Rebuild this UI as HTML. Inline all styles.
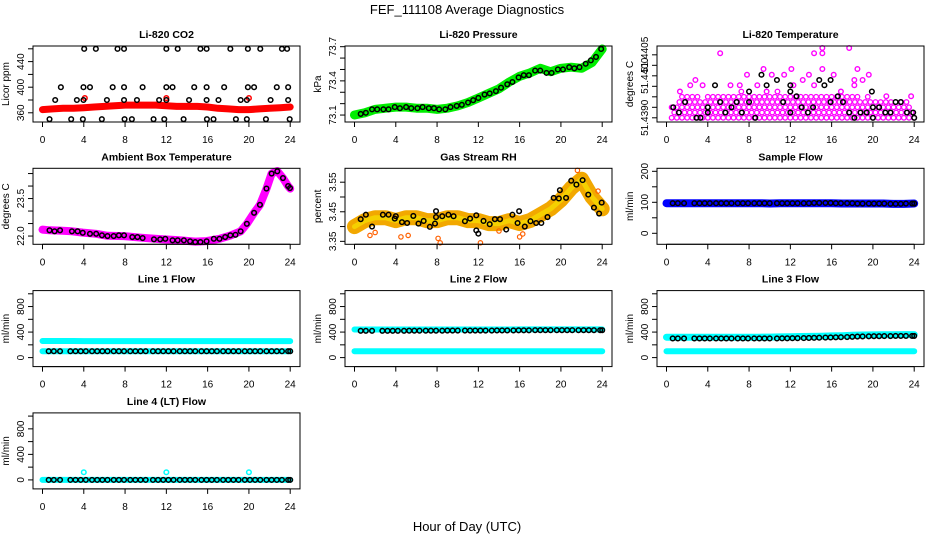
<!DOCTYPE html>
<html><head><meta charset="utf-8"><style>
html,body{margin:0;padding:0;background:#fff;}
svg{display:block;font-family:"Liberation Sans",sans-serif;}
</style></head><body>
<svg id="fig" width="936" height="540" viewBox="0 0 936 540" xmlns="http://www.w3.org/2000/svg">
<rect width="936" height="540" fill="#fff"/>
<text x="467" y="14" font-size="13" text-anchor="middle">FEF_111108  Average Diagnostics</text>
<text x="467" y="531" font-size="13" text-anchor="middle">Hour of Day (UTC)</text>
</svg>
<script>
// ---------- shared ----------
const xTicks = [0,4,8,12,16,20,24];
const hourly = [0,1,2,3,4,5,6,7,8,9,10,11,12,13,14,15,16,17,18,19,20,21,22,23,24];
const flowHours = [0.6,1.1,1.7,2.7,3.2,3.7,4.2,4.8,5.3,5.8,6.3,6.9,7.4,7.9,8.5,9.0,9.5,10.0,10.7,11.2,11.7,12.2,12.7,13.3,13.8,14.3,14.8,15.4,15.9,16.4,16.9,17.5,18.0,18.5,19.0,19.6,20.1,20.6,21.1,21.7,22.2,22.7,23.2,23.8,24.0];

// ---------- CO2 ----------
const co2Band = [365,366,367,367,368,369,370,371,372,372,372,372,371,370,370,370,369,367,366,365,365,366,367,368,369];
const co2PtsH = [4.04,5.17,7.27,7.9,12.0,13.1,15.3,15.9,18.2,19.9,21.1,23.2,23.7, 1.78,3.97,4.6,6.8,7.9,9.7,12,12.6,14.7,15.9,17.6,19.9,20.5,22.7,23.8, 1.23,3.33,3.97,6.24,7.9,9.15,11.3,12,14.2,15.9,17.05,19.2,19.8,22.1,23.8, 0.68,2.78,3.91,5.75,7.95,8.66,10.76,11.8,13.67,15.93,16.57,18.74,19.8,21.65,23.95];
const co2PtsV = [460,460,460,460,460,460,460,460,460,460,460,460,460, 400,400,400,400,400,400,400,400,400,400,400,400,400,400,400, 380,380,380,380,380,380,380,380,380,380,380,380,380,380,380, 350,350,350,350,350,350,350,350,350,350,350,350,350,350,350];
const co2RedH = [4.1,12.0,20.0];
const co2RedV = [383,383,383];

// ---------- Pressure ----------
const presBand = [73.10,73.12,73.15,73.16,73.17,73.17,73.16,73.16,73.15,73.16,73.18,73.21,73.25,73.29,73.33,73.39,73.44,73.47,73.51,73.48,73.51,73.52,73.51,73.56,73.68];
const presPtsH = [0.6,1.1,1.7,2.2,2.8,3.3,3.9,4.4,5.0,5.5,6.1,6.6,7.2,7.7,8.2,8.8,9.3,9.9,10.4,11.0,11.5,12.0,12.6,13.1,13.7,14.2,14.8,15.3,15.9,16.4,16.9,17.5,18.0,18.6,19.1,19.7,20.2,20.8,21.3,21.8,22.4,22.9,23.4,23.9];
const presPtsV = [73.11,73.12,73.15,73.15,73.15,73.15,73.17,73.16,73.17,73.16,73.16,73.17,73.16,73.16,73.15,73.15,73.17,73.18,73.19,73.21,73.23,73.25,73.28,73.29,73.31,73.34,73.37,73.39,73.43,73.45,73.45,73.49,73.49,73.47,73.47,73.50,73.50,73.52,73.51,73.52,73.55,73.58,73.61,73.68];

// ---------- Li-820 Temperature (quantized levels; value = 51.4390 + level*0.000125) ----------
const tempBandTop = [2,2,3,4,4,4,4,3,4,4,4,4,4,4,5,4,4,4,4,4,4,5,4,4,4,4,4,4,4,4,4,4,4,4,4,4,4,4,3,4,3,3,3,3,2,3,3,2,1];
const tempMagH = [5.2,14.3,15.1,15.1,17.7,9.4,12.1,15.1,18.5,2.8,7.8,10.2,11.4,13.8,16.2,19.6,2.3,3.5,6.2,7.1,8.8,13.2,18.2,19.0,18.2,21.3,23.7,1.3,12.3,14.3,9.7,16.9];
const tempMagL = [12.3,12.3,12.3,13.3,13.3,9.3,9.3,9.3,9.3,7.2,8.2,8.2,8.2,8.2,8.2,8.2,6.2,6.2,6.2,6.2,6.2,7.2,7.2,7.2,6.2,4.1,4.1,5,6.2,6.2,5,5];
const tempBlkH = [0.65,1.2,1.8,2.9,3.3,4.0,4.0,4.7,5.2,5.7,6.3,6.8,7.3,8,8,8.6,9.2,9.7,10.7,11.3,12,12,12,12.6,13.1,13.7,14.2,14.8,15.3,15.9,15.9,16.6,17.1,17.7,18.2,18.8,19.4,19.9,20,20,20.6,21.2,21.7,22.2,22.7,23.3,23.9,24];
const tempBlkL = [2,1,3,0,0,2,1,6.2,3,1,2,3,1,5,3,0,8.2,6.2,7.2,3,6.2,5,1,4.1,2,1,2,7.2,6.2,7.2,3,4.1,3,1,0,1,1,5,2,0,2,1,1,3,3,1,1,0];

// ---------- Ambient Box Temperature ----------
const ambH = [0.68,1.17,1.7,2.85,3.4,3.9,4.6,5.2,5.76,6.3,6.9,7.4,7.9,8.7,9.2,9.7,10.8,11.4,11.9,12.6,13.1,13.7,14.3,14.8,15.3,15.9,16.6,17.15,17.7,18.2,18.7,19.2,19.8,20.5,21.07,21.7,22.2,22.75,23.3,23.8,23.98];
const ambV = [22.23,22.19,22.23,22.19,22.19,22.13,22.09,22.09,22.03,22.0,22.0,22.03,22.03,21.96,21.96,21.92,21.87,21.87,21.89,21.83,21.83,21.83,21.79,21.76,21.76,21.79,21.89,21.89,21.96,22.03,22.05,22.19,22.49,22.93,23.25,23.9,24.5,24.59,24.32,24.0,23.92];
const ambBandH = [0,0.68,1.7,2.85,3.9,5.2,6.3,7.9,9.7,11.4,13.1,14.8,15.9,17.15,18.2,19.2,19.8,20.5,21.07,21.7,22.2,22.75,23.3,23.8,24];
const ambBandV = [22.26,22.23,22.22,22.19,22.14,22.09,22.01,22.0,21.93,21.88,21.84,21.78,21.8,21.89,22.02,22.19,22.49,22.93,23.25,23.9,24.5,24.6,24.32,24.0,23.9];

// ---------- Gas Stream RH ----------
const rhBand = [3.40,3.42,3.43,3.43,3.42,3.43,3.43,3.42,3.42,3.43,3.43,3.42,3.42,3.41,3.41,3.42,3.41,3.42,3.44,3.46,3.49,3.53,3.56,3.50,3.46];
const rhH = [0.6,1.1,1.7,2.75,3.3,3.9,4,4.6,5.1,5.7,6.2,6.7,7.3,7.8,7.9,7.9,8.5,9.1,9.6,10.7,11.2,11.8,11.8,12,12.5,13.1,13.6,14.1,14.7,15.3,15.8,15.95,16.5,17.05,17.6,18.1,18.7,19.3,19.8,19.9,20.5,21,21.5,22.1,22.65,23.2,23.7,23.95];
const rhV = [3.425,3.44,3.40,3.44,3.44,3.427,3.435,3.415,3.412,3.436,3.41,3.419,3.399,3.41,3.452,3.432,3.435,3.44,3.435,3.418,3.427,3.438,3.387,3.376,3.419,3.408,3.425,3.425,3.39,3.44,3.412,3.452,3.40,3.418,3.412,3.412,3.432,3.497,3.495,3.523,3.497,3.555,3.542,3.557,3.508,3.464,3.444,3.481];
const rhOutH = [1.5,2.0,4.5,5.2,8.1,8.3,12.2,14.0,16.0,16.3,21.6,23.6];
const rhOutV = [3.37,3.38,3.365,3.37,3.36,3.345,3.345,3.385,3.365,3.375,3.59,3.52];

// ---------- Sample Flow ----------
const sampBand = [97,97,97,97,97,97,97,97,97,97,96,97,97,97,97,97,97,96,96,96,96,96,95,95,96];
const sampPts = [97,97,97,97,97,97,97,97,97,97,97,97,97,97,97,97,97,97,97,97,97,97,97,97,97,98,98,98,98,97,97,97,97,96,96,96,96,96,96,95,95,95,96,96,96];

// ---------- Line flows ----------
const l1BandHi = [260,260,260,260,258,258,258,258,258,258,258,258,258,258,258,258,258,258,258,258,258,258,258,258,258];
const l1BandLo = [100,100,100,100,100,100,100,100,100,100,100,100,100,100,100,100,100,100,100,100,100,100,100,100,100];
const l1Pts = [100,100,100,100,100,100,100,100,100,100,100,100,100,100,100,100,100,100,100,100,100,100,100,100,100,100,100,100,100,100,100,100,100,100,100,100,100,100,100,100,100,100,100,100,100];
const l2BandHi = [440,440,440,440,440,440,440,440,440,440,440,440,440,440,440,440,442,442,442,442,442,442,442,442,442];
const l2BandLo = [100,100,100,100,100,100,100,100,100,100,100,100,100,100,100,100,100,100,100,100,100,100,100,100,100];
const l2Pts = [420,420,420,420,420,420,420,420,422,422,422,422,422,422,422,424,424,424,424,424,424,424,424,424,426,426,426,426,428,428,428,430,430,430,430,430,430,430,430,430,430,430,430,430,430];
const l3BandHi = [320,320,320,320,320,320,320,320,320,320,322,324,326,330,332,336,340,344,350,354,356,358,358,360,360];
const l3BandLo = [100,100,100,100,100,100,100,100,100,100,100,100,100,100,100,100,100,100,100,100,100,100,100,100,100];
const l3Pts = [300,300,300,300,300,300,300,300,300,300,300,300,300,300,300,300,300,300,300,302,302,304,304,306,308,310,312,314,316,318,320,322,326,330,332,334,336,336,338,338,340,340,340,340,340];
const l4Band = [0,0,0,0,0,0,0,0,0,0,0,0,0,0,0,0,0,0,0,0,0,0,0,0,0];
const l4SpikeH = [4.0,12.0,20.0];
const l4SpikeV = [120,120,120];
const l4Pts = [0,0,0,0,0,0,0,0,0,0,0,0,0,0,0,0,0,0,0,0,0,0,0,0,0,0,0,0,0,0,0,0,0,0,0,0,0,0,0,0,0,0,0,0,0];

const co2Ticks=[360,380,400,420,440,460], co2Labels=[360,400,440];
const presTicks=[73.1,73.2,73.3,73.4,73.5,73.6,73.7], presLabels=[73.1,73.4,73.7];
const tempTicks=[51.4390,51.43925,51.4395,51.43975,51.4400,51.44025,51.4405], tempLabels=[51.4390,51.4400,51.4405];
const ambTicks=[22.0,22.5,23.0,23.5,24.0,24.5], ambLabels=[22.0,23.5];
const rhTicks=[3.35,3.40,3.45,3.50,3.55], rhLabels=[3.35,3.45,3.55];
const sampTicks=[0,50,100,150,200], sampLabels=[0,100,200];
const flowTicks=[0,200,400,600,800,1000], flowLabels=[0,400,800];

// ---------- drawing ----------
const NS='http://www.w3.org/2000/svg';
const svg=document.getElementById('fig');
function mk(tag,attrs,parent){const e=document.createElementNS(NS,tag);for(const k in attrs)e.setAttribute(k,attrs[k]);(parent||svg).appendChild(e);return e;}

function panel(col,row,title,ylab,ymin,ymax,ticks,labels,fmt,name){
  const x0=33+312*col, x1=300+312*col, top=46+122.3*row, bot=top+76;
  const g=mk('g',{});
  
  
  const xs=h=>x0+9.5+h*(247.7/24);
  const ys=v=>bot-(v-ymin)/(ymax-ymin)*76;
  const t=mk('text',{x:(x0+x1)/2,y:top-8,'font-size':10.5,'font-weight':'bold','text-anchor':'middle'},g);
  t.textContent=title;
  
  
  const data=mk('g',{},g);
  
  
  const box=mk('rect',{x:x0,y:top,width:x1-x0,height:76,fill:'none',stroke:'#000','stroke-width':1},g);
  
  
  const ax=mk('g',{},g);
  
  
  mk('line',{x1:xs(0),x2:xs(24),y1:bot,y2:bot,stroke:'#000'},ax);
  xTicks.forEach(h=>{
    mk('line',{x1:xs(h),x2:xs(h),y1:bot,y2:bot+5,stroke:'#000'},ax);
    const l=mk('text',{x:xs(h),y:bot+21,'font-size':10,'text-anchor':'middle'},ax);
    l.textContent=h;
  });
  const ay=mk('g',{},g);
  
  
  mk('line',{x1:x0,x2:x0,y1:ys(ticks[0]),y2:ys(ticks[ticks.length-1]),stroke:'#000'},ay);
  ticks.forEach(v=>mk('line',{x1:x0-5,x2:x0,y1:ys(v),y2:ys(v),stroke:'#000'},ay));
  labels.forEach(v=>{
    const y=ys(v), x=x0-9;
    const l=mk('text',{x:x,y:y,'font-size':10,'text-anchor':'middle',transform:`rotate(-90 ${x} ${y})`},ay);
    l.textContent=fmt(v);
  });
  const yl=mk('text',{x:x0-24,y:(top+bot)/2,'font-size':10,'text-anchor':'middle',transform:`rotate(-90 ${x0-24} ${(top+bot)/2})`},g);
  yl.textContent=ylab;
  
  
  return {xs,ys,g:data};
}
function band(p,hs,vs,color,w,nm){
  const pts=hs.map((h,i)=>p.xs(h).toFixed(1)+','+p.ys(vs[i]).toFixed(1)).join(' ');
  const e=mk('polyline',{points:pts,fill:'none',stroke:color,'stroke-width':w,'stroke-linejoin':'round','stroke-linecap':'round'},p.g);
  
  
}
function circles(p,hs,vs,color,nm,r,sw){
  const gg=mk('g',{},p.g);
  
  
  hs.forEach((h,i)=>{
    const c=mk('circle',{cx:p.xs(h),cy:p.ys(vs[i]),r:r||2.3,fill:'none',stroke:color,'stroke-width':sw||1.5},gg);
    
    
  });
}
const f0=v=>String(v), f1=v=>v.toFixed(1), f2=v=>v.toFixed(2), f4=v=>v.toFixed(4);

// CO2
let p=panel(0,0,'Li-820 CO2','Licor ppm',345.6,464.4,co2Ticks,co2Labels,f0,'co2');
band(p,hourly,co2Band,'#ff0000',7,'co2-raw-band');
circles(p,co2RedH,co2RedV,'#ff0000','co2-red-points');
circles(p,co2PtsH,co2PtsV,'#000','co2-average-points');
// Pressure
p=panel(1,0,'Li-820 Pressure','kPa',73.039,73.706,presTicks,presLabels,f1,'pressure');
band(p,hourly,presBand,'#00ee00',9,'pressure-raw-band');
circles(p,presPtsH,presPtsV,'#000','pressure-average-points');
// Li-820 Temperature
const tStep=0.000125, tBase=51.4390;
p=panel(2,0,'Li-820 Temperature','degrees C',51.43890,51.44071,tempTicks,tempLabels,f4,'li820-temp');
{
  const mh=[],mv=[];
  tempBandTop.forEach((top,i)=>{for(let k=0;k<=top;k++){const h=i*0.5+((k%2)?0.25:0);if(h>=0.3&&h<=24){mh.push(h);mv.push(tBase+k*tStep);}}});
  circles(p,mh,mv,'#ff00ff','li820-temp-raw',2.3,1.3);
}
circles(p,tempMagH,tempMagL.map(k=>tBase+k*tStep),'#ff00ff','li820-temp-outliers',2.3,1.4);
circles(p,tempBlkH,tempBlkL.map(k=>tBase+k*tStep),'#000','li820-temp-average-points');
// Ambient
p=panel(0,1,'Ambient Box Temperature','degrees C',21.67,24.71,ambTicks,ambLabels,f1,'ambient-temp');
band(p,ambBandH,ambBandV,'#ff00ff',8,'ambient-raw-band');
circles(p,ambH,ambV,'#000','ambient-average-points');
// RH
p=panel(1,1,'Gas Stream RH','percent',3.34,3.597,rhTicks,rhLabels,f2,'rh');
band(p,hourly,rhBand,'#f2a800',15,'rh-raw-band');
band(p,hourly,rhBand,'#f5d000',5,'rh-raw-band-core');
circles(p,rhOutH,rhOutV,'#ff6000','rh-outliers',2.2,1.2);
circles(p,rhH,rhV,'#000','rh-average-points');
// Sample flow
p=panel(2,1,'Sample Flow','ml/min',-35.5,209.7,sampTicks,sampLabels,f0,'sample-flow');
band(p,hourly,sampBand,'#0000ff',8,'sample-flow-raw-band');
circles(p,flowHours,sampPts,'#000','sample-flow-average-points');
// Line 1
p=panel(0,2,'Line 1 Flow','ml/min',-141,1050,flowTicks,flowLabels,f0,'line1-flow');
band(p,hourly,l1BandHi,'#00ffff',6,'line1-high-band');
band(p,hourly,l1BandLo,'#00ffff',6,'line1-low-band');
circles(p,flowHours,l1Pts,'#000','line1-average-points');
// Line 2
p=panel(1,2,'Line 2 Flow','ml/min',-141,1050,flowTicks,flowLabels,f0,'line2-flow');
band(p,hourly,l2BandHi,'#00ffff',6,'line2-high-band');
band(p,hourly,l2BandLo,'#00ffff',6,'line2-low-band');
circles(p,flowHours,l2Pts,'#000','line2-average-points');
// Line 3
p=panel(2,2,'Line 3 Flow','ml/min',-141,1050,flowTicks,flowLabels,f0,'line3-flow');
band(p,hourly,l3BandHi,'#00ffff',7,'line3-high-band');
band(p,hourly,l3BandLo,'#00ffff',6,'line3-low-band');
circles(p,flowHours,l3Pts,'#000','line3-average-points');
// Line 4
p=panel(0,3,'Line 4 (LT) Flow','ml/min',-141,1050,flowTicks,flowLabels,f0,'line4-flow');
band(p,hourly,l4Band,'#00ffff',6,'line4-band');
circles(p,l4SpikeH,l4SpikeV,'#00ffff','line4-spikes');
circles(p,flowHours,l4Pts,'#000','line4-average-points');
</script>
</body></html>
